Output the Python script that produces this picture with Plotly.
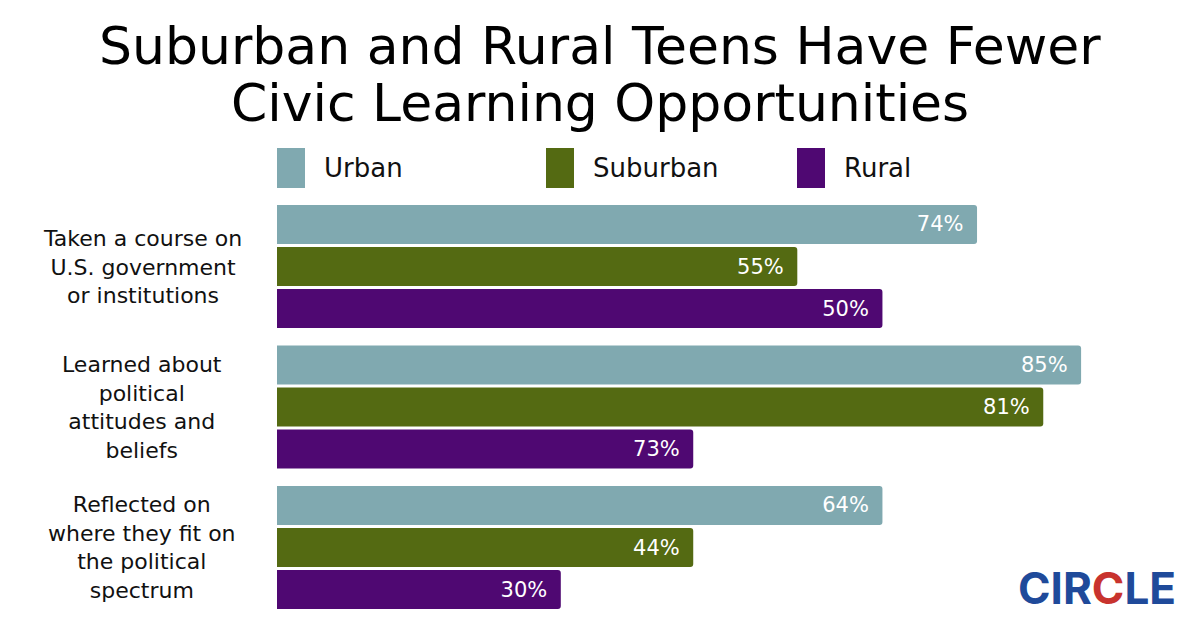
import plotly.graph_objects as go

categories = [
    "Taken a course on<br>U.S. government<br>or institutions",
    "Learned about<br>political<br>attitudes and<br>beliefs",
    "Reflected on<br>where they fit on<br>the political<br>spectrum",
]
cat_keys = ["course", "learned", "reflected"]
series_names = ["Urban", "Suburban", "Rural"]
# bar lengths as drawn in the reference image
bar_values = {
    "Urban": [74, 85, 64],
    "Suburban": [55, 81, 44],
    "Rural": [64, 44, 30],
}
# labels as printed in the reference image
bar_labels = {
    "Urban": ["74%", "85%", "64%"],
    "Suburban": ["55%", "81%", "44%"],
    "Rural": ["50%", "73%", "30%"],
}
title_lines = ["Suburban and Rural Teens Have Fewer", "Civic Learning Opportunities"]
colors = {"Urban": "#80A9B0", "Suburban": "#546A12", "Rural": "#4F0872"}

FONT = "DejaVu Sans"

fig = go.Figure()
for s in series_names:
    fig.add_trace(go.Bar(
        y=cat_keys, x=bar_values[s], orientation="h", name=s,
        marker=dict(color=colors[s], line=dict(width=0)),
        text=[t + "\u2002" for t in bar_labels[s]],
        textposition="inside", insidetextanchor="end",
        textfont=dict(color="white", size=21, family=FONT),
        showlegend=False, hoverinfo="skip",
    ))

x0 = 277 / 1200
x1 = (277 + 9.46 * 90) / 1200
fig.update_layout(
    width=1200, height=630,
    margin=dict(l=0, r=0, t=0, b=0),
    paper_bgcolor="white", plot_bgcolor="white",
    barmode="group", bargap=0.103, bargroupgap=0.07,
    barcornerradius=3,
    xaxis=dict(domain=[x0, x1], range=[0, 90], visible=False, fixedrange=True),
    yaxis=dict(domain=[(630 - 617.75) / 630, (630 - 196.25) / 630],
               autorange="reversed", showticklabels=False, showgrid=False,
               zeroline=False, fixedrange=True,
               categoryorder="array", categoryarray=cat_keys),
    font=dict(family=FONT, color="#111111"),
)

# title (two separate lines for tight line spacing)
for line, yc in zip(title_lines, [46, 103]):
    fig.add_annotation(
        text=line, xref="paper", yref="paper", x=0.5, y=1 - yc / 630,
        xanchor="center", yanchor="middle", showarrow=False,
        font=dict(size=52, family=FONT, color="#000000"),
    )

# category labels
for key, lab in zip(cat_keys, categories):
    fig.add_annotation(
        text=lab, xref="paper", yref="y", x=142 / 1200, y=key,
        xanchor="center", yanchor="middle", showarrow=False, align="center",
        font=dict(size=22, family=FONT, color="#111111"),
    )

# legend
leg_x = [277, 546, 797]
for s, lx in zip(series_names, leg_x):
    fig.add_shape(type="rect", xref="paper", yref="paper",
                  x0=lx / 1200, x1=(lx + 28) / 1200,
                  y0=1 - 188 / 630, y1=1 - 148 / 630,
                  fillcolor=colors[s], line=dict(width=0))
    fig.add_annotation(text=s, xref="paper", yref="paper",
                       x=(lx + 45) / 1200, y=1 - 168 / 630,
                       xanchor="left", yanchor="middle", showarrow=False,
                       font=dict(size=26, family=FONT, color="#111111"))

# logo
fig.add_annotation(
    text="<b>CIR<span style='color:#C8332E'>C</span>LE</b>",
    xref="paper", yref="paper", x=1178 / 1200, y=1 - 588 / 630,
    xanchor="right", yanchor="middle", showarrow=False,
    font=dict(size=44, family="Inter", color="#1F4A9A"),
)

fig.write_html("out.html", config={"displayModeBar": False},
               post_script="document.body.style.margin='0';document.body.style.overflow='hidden';")
